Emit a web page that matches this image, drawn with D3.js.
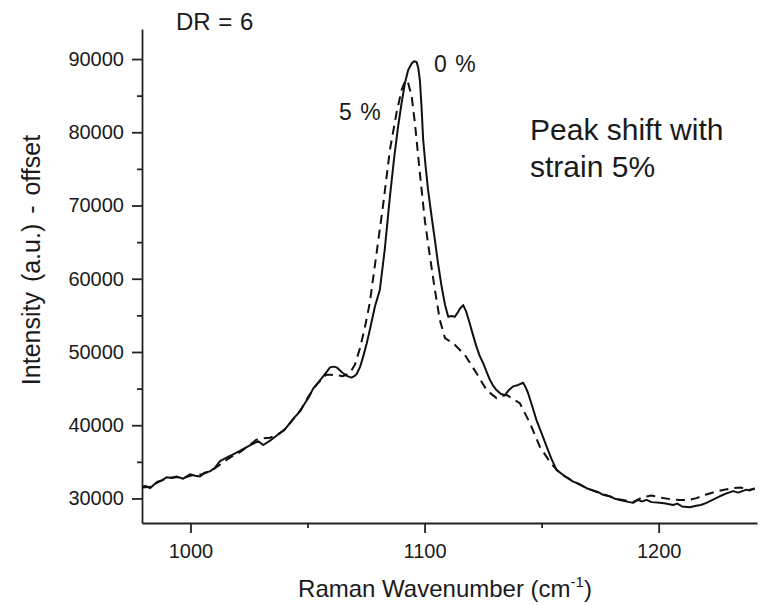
<!DOCTYPE html>
<html>
<head>
<meta charset="utf-8">
<script src="https://cdn.jsdelivr.net/npm/d3@7"></script>
<style>
  html, body { margin: 0; padding: 0; background: #fff; }
  svg { display: block; }
  text { font-family: "Liberation Sans", Arial, sans-serif; fill: #1a1a1a; }
</style>
</head>
<body>
<svg id="chart" width="763" height="605"></svg>
<script>
// ---- Data ----
const xTicksMajor = [1000, 1100, 1200];
const xTicksMinor = [1050, 1150];
const yTicksMajor = [30000, 40000, 50000, 60000, 70000, 80000, 90000];
const yTicksMinor = [35000, 45000, 55000, 65000, 75000, 85000];

// 0 % strain (solid)
const strain0 = [
  [979.3, 31600], [981, 31700], [982.7, 31400], [984.5, 31900], [986, 32300], [988, 32500],
  [989.8, 32900], [992, 32800], [994, 33000], [996.9, 32700], [999.8, 33300], [1002, 33100],
  [1004.1, 33000], [1006, 33500], [1008.3, 33700], [1010.5, 34200], [1012.6, 35100], [1015, 35500],
  [1018, 36000], [1021.1, 36500], [1024, 37000], [1026.8, 37500], [1029, 37800], [1031.1, 37300],
  [1034, 37900], [1036, 38400], [1038.2, 38900], [1040.5, 39500], [1042.5, 40300], [1044.5, 41100],
  [1046, 41600], [1048.9, 43000], [1050.5, 43800], [1052.4, 45000], [1054, 45600], [1056, 46400],
  [1058, 47200], [1059.6, 47900], [1061, 48000], [1062.4, 47900], [1063.8, 47500], [1065.2, 47100],
  [1067, 46700], [1068.8, 46500], [1070, 46700], [1071, 47000], [1072.5, 48000], [1073.8, 49400],
  [1075.3, 51200], [1076.6, 53000], [1078.8, 56200], [1080.9, 58500], [1083, 64000], [1085.2, 71200],
  [1087, 76500], [1088.7, 80800], [1090.2, 84000], [1091.6, 86700], [1093, 88500], [1094.5, 89400],
  [1095.5, 89700], [1096.6, 89600], [1097.3, 88800], [1098.0, 87100], [1098.7, 83500], [1099.4, 79000],
  [1100.4, 75500], [1101.5, 72100], [1103, 68500], [1104.4, 65300], [1105.8, 62000], [1107.3, 58900],
  [1108.7, 56500], [1110.1, 54800], [1111.5, 54900], [1112.9, 54800], [1114, 55300], [1115.1, 55900],
  [1116.5, 56400], [1117.8, 55500], [1119.3, 53900], [1120.7, 52300], [1122.2, 50700], [1123.5, 49500],
  [1125.0, 48500], [1126.5, 47300], [1127.9, 46200], [1129.3, 45400], [1130.7, 44800], [1132.5, 44300],
  [1134.3, 44100], [1136, 44800], [1137.8, 45300], [1140, 45500], [1142.1, 45800], [1143, 45300],
  [1144.2, 44400], [1146, 42600], [1147.8, 40700], [1150, 38900], [1152.1, 37100], [1154.2, 35400],
  [1156.4, 33900], [1159.2, 33200], [1161, 32800], [1163.5, 32300], [1166, 32000], [1169.2, 31400],
  [1172, 31100], [1174, 30900], [1176.3, 30500], [1179, 30300], [1181, 30000], [1183.4, 29800],
  [1186, 29600], [1189.1, 29400], [1191, 29800], [1193, 29600], [1194.8, 29800], [1197, 29500],
  [1200.5, 29400], [1203, 29300], [1206.1, 29100], [1208, 29300], [1210, 28900], [1213.3, 28800],
  [1216, 29000], [1218, 29100], [1220.4, 29400], [1223, 29800], [1226.1, 30300], [1229, 30700],
  [1231.8, 31000], [1234, 30800], [1237.5, 31200], [1239, 31100], [1241, 31400]
];

// 5 % strain (dashed)
const strain5 = [
  [979.3, 31500], [983, 31600], [986, 32200], [990, 32800], [994, 32900], [998, 32900],
  [1001, 33200], [1005, 33300], [1009, 33800], [1013, 34700], [1017, 35600], [1021, 36300],
  [1025, 37200], [1028, 38000], [1031, 38200], [1034, 38300], [1037, 38700], [1040, 39300],
  [1043, 40500], [1047, 42000], [1050, 43700], [1053, 45200], [1056, 46300], [1058, 46900],
  [1059.6, 46900], [1063, 46800], [1065.1, 46700], [1068.1, 47100], [1070.3, 48300], [1072.4, 50500],
  [1074.6, 53500], [1076.6, 56700], [1079.5, 63500], [1082.3, 70100], [1085.2, 77600], [1088.0, 82600],
  [1090.2, 85800], [1091.4, 86750], [1092.3, 87150], [1093.1, 86600], [1094.5, 84900], [1095.9, 81200],
  [1098.0, 74400], [1100.1, 68000], [1102.3, 63000], [1104.4, 58500], [1106.5, 54400], [1108.7, 51900],
  [1112.2, 51200], [1117.2, 49600], [1122.2, 47100], [1126.5, 44800], [1130.7, 43700], [1135.0, 44150],
  [1140.7, 43000], [1145.0, 40300], [1149.2, 37100], [1153.5, 35000], [1156.4, 33900], [1160, 33000],
  [1165, 32100], [1170, 31300], [1176, 30600], [1183, 29900], [1189, 29500], [1193.3, 30200],
  [1197, 30400], [1201.9, 30050], [1205, 29900], [1209, 29800], [1213, 29800], [1216.1, 30050],
  [1220, 30500], [1224.7, 30960], [1228, 31200], [1231.8, 31420], [1235, 31500], [1238.9, 31190],
  [1241, 31300]
];

const xDomain = [979.3, 1242];
const yDomain = [26650, 94100];

// ---- Drawing ----
const svg = d3.select("#chart");
const mLeft = 142, mRight = 757, mTop = 29, mBottom = 523;

const x = d3.scaleLinear().domain(xDomain).range([mLeft, mRight]);
const y = d3.scaleLinear().domain(yDomain).range([mBottom, mTop]);

const axisColor = "#222";

// x axis
const gx = svg.append("g").attr("transform", `translate(0,${mBottom})`);
gx.call(d3.axisBottom(x).tickValues(xTicksMajor).tickSize(10).tickSizeOuter(0).tickPadding(5).tickFormat(d3.format("d")));
gx.append("g").call(d3.axisBottom(x).tickValues(xTicksMinor).tickSize(5).tickSizeOuter(0).tickFormat(""))
  .select(".domain").remove();

// y axis
const gy = svg.append("g").attr("transform", `translate(${mLeft},0)`);
gy.call(d3.axisLeft(y).tickValues(yTicksMajor).tickSize(10).tickSizeOuter(0).tickPadding(8).tickFormat(d3.format("d")));
gy.append("g").call(d3.axisLeft(y).tickValues(yTicksMinor).tickSize(5).tickSizeOuter(0).tickFormat(""))
  .select(".domain").remove();

svg.selectAll(".domain").attr("stroke", axisColor).attr("stroke-width", 1.8);
svg.selectAll(".tick line").attr("stroke", axisColor).attr("stroke-width", 1.8);
svg.selectAll(".tick text").attr("font-size", 20).attr("fill", "#222")
  .attr("font-family", "'Liberation Sans', Arial, sans-serif");
gx.selectAll(".tick text").attr("dy", "1.0em");

// lines
const line = d3.line().x(d => x(d[0])).y(d => y(d[1]));
svg.append("clipPath").attr("id", "clip").append("rect")
  .attr("x", mLeft).attr("y", mTop).attr("width", mRight - mLeft).attr("height", mBottom - mTop);

svg.append("path").datum(strain5)
  .attr("clip-path", "url(#clip)")
  .attr("fill", "none").attr("stroke", "#111").attr("stroke-width", 2)
  .attr("stroke-dasharray", "9,6")
  .attr("d", line);

svg.append("path").datum(strain0)
  .attr("clip-path", "url(#clip)")
  .attr("fill", "none").attr("stroke", "#111").attr("stroke-width", 2)
  .attr("stroke-linejoin", "round")
  .attr("d", line);

// titles
svg.append("text").attr("x", 445).attr("y", 597).attr("text-anchor", "middle").attr("font-size", 24)
  .html('Raman Wavenumber (cm<tspan dy="-10" font-size="15">-1</tspan><tspan dy="10">)</tspan>');

svg.append("text").attr("transform", "translate(40,260) rotate(-90)")
  .attr("text-anchor", "middle").attr("font-size", 25).attr("word-spacing", 3)
  .text("Intensity (a.u.) - offset");

// annotations
svg.append("text").attr("x", 176).attr("y", 30).attr("font-size", 24).attr("word-spacing", 1).text("DR = 6");
svg.append("text").attr("x", 339).attr("y", 120).attr("font-size", 23).attr("word-spacing", 2).text("5 %");
svg.append("text").attr("x", 434).attr("y", 72).attr("font-size", 23).attr("word-spacing", 2).text("0 %");
svg.append("text").attr("x", 530).attr("y", 140).attr("font-size", 30).attr("fill", "#000").text("Peak shift with");
svg.append("text").attr("x", 530).attr("y", 177).attr("font-size", 30).attr("fill", "#000").text("strain 5%");
</script>
</body>
</html>
